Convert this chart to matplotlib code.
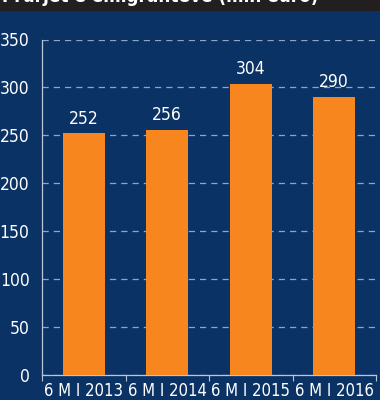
import matplotlib
matplotlib.use('Agg')
import matplotlib.pyplot as plt

# Values
categories = ['6 M I 2013', '6 M I 2014', '6 M I 2015', '6 M I 2016']
values = [252, 256, 304, 290]
y_ticks = [0, 50, 100, 150, 200, 250, 300, 350]
title = 'Prurjet e emigrantëve (mln euro)'

bg_color = '#0b3265'
bar_color = '#f7861f'
grid_color = '#8ea5c6'
axis_color = '#b9c6d8'

plt.rcParams['font.family'] = ['DejaVu Sans']
plt.rcParams['font.stretch'] = 'condensed'

fig = plt.figure(figsize=(3.8, 4.0), dpi=100)
fig.patch.set_facecolor(bg_color)

# black title band at the top, text cut off by the figure edge
band = fig.add_axes([0, 1 - 11 / 400, 1, 11 / 400])
band.set_facecolor('#231f20')
band.set_xticks([])
band.set_yticks([])
for s in band.spines.values():
    s.set_visible(False)
fig.text(0.005, 1 + 3 / 400, title, color='white', fontsize=13.5, fontweight='bold',
         ha='left', va='center')

ax = fig.add_axes([42 / 380, 25 / 400, 334 / 380, 335.5 / 400])
ax.set_facecolor(bg_color)

x = list(range(len(categories)))
ax.bar(x, values, width=0.5, color=bar_color, zorder=3)
for xi, v in zip(x, values):
    ax.text(xi, v + 6, str(v), color='white', fontsize=12.5, ha='center', va='bottom', zorder=4)

ax.set_xlim(-0.5, len(categories) - 0.5)
ax.set_ylim(0, 350)
ax.set_yticks(y_ticks)
ax.set_yticklabels([str(t) for t in y_ticks], color='white', fontsize=12.5)
ax.tick_params(axis='y', length=0, pad=9)

ax.set_xticks([i - 0.5 for i in x] + [len(categories) - 0.5])
ax.set_xticklabels([])
ax.set_xticks(x, minor=True)
ax.set_xticklabels(categories, minor=True, color='white', fontsize=12)
ax.tick_params(axis='x', which='major', length=4, color=axis_color, direction='out')
ax.tick_params(axis='x', which='minor', length=0, pad=5)

ax.yaxis.grid(True, color=grid_color, linestyle=(0, (5, 4)), linewidth=0.9, zorder=1)
ax.set_axisbelow(True)

for side in ['top', 'right']:
    ax.spines[side].set_visible(False)
for side in ['left', 'bottom']:
    ax.spines[side].set_color(axis_color)
    ax.spines[side].set_linewidth(0.9)

fig.savefig('out.png', dpi=100, facecolor=bg_color)
